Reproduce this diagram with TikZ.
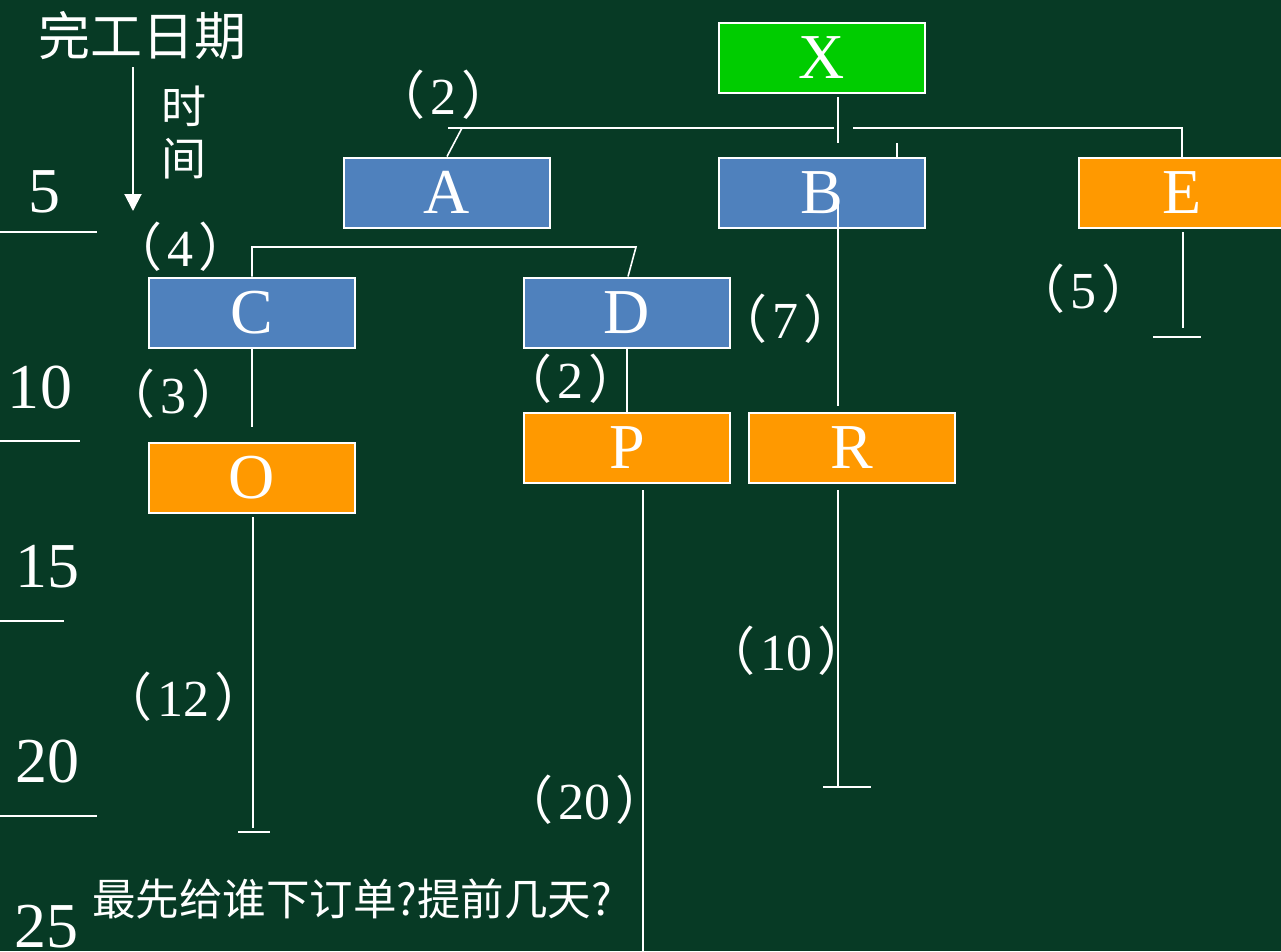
\documentclass[tikz,border=0pt]{standalone}
\usepackage{fontspec}
\setmainfont{Liberation Serif}
\newfontfamily\cjk{Noto Sans CJK SC}
\usetikzlibrary{arrows.meta,calc}
\definecolor{bgc}{RGB}{7,58,37}
\definecolor{boxblue}{RGB}{79,129,189}
\definecolor{boxorange}{RGB}{255,153,0}
\definecolor{boxgreen}{RGB}{0,204,0}
\newcommand\plbl[1]{{\cjk （}\kern5pt#1\kern5pt{\cjk ）}}
\begin{document}
\begin{tikzpicture}[x=1pt,y=-1pt,
  box/.style={draw=white,line width=2pt,minimum width=206pt,minimum height=70pt,inner sep=0pt,text=white,font=\fontsize{64}{64}\selectfont},
  bluebox/.style={box,fill=boxblue},
  orangebox/.style={box,fill=boxorange},
  greenbox/.style={box,fill=boxgreen},
  conn/.style={draw=white,line width=1.6pt},
  lbl/.style={text=white,inner sep=0pt,font=\fontsize{52}{52}\selectfont},
  ticknum/.style={text=white,inner sep=0pt,font=\fontsize{64}{64}\selectfont},
  cjktxt/.style={text=white,inner sep=0pt}]
\fill[bgc] (0,0) rectangle (1281,951);
\useasboundingbox (0,0) rectangle (1281,951);

% boxes
\node[greenbox] (X) at (822,58) {X};
\node[bluebox] (A) at (447,192.5) {A};
\node[bluebox] (B) at (822,192.5) {B};
\node[orangebox] (E) at (1182,192.5) {E};
\node[bluebox] (C) at (252,312.5) {C};
\node[bluebox] (D) at (627,312.5) {D};
\node[orangebox] (O) at (252,477.5) {O};
\node[orangebox] (P) at (627,447.5) {P};
\node[orangebox] (R) at (852,447.5) {R};

% coordinates
\coordinate (xs1) at (838,97);
\coordinate (xs2) at (838,143);
\coordinate (barL) at (448,128);
\coordinate (barM) at (834,128);
\coordinate (barN) at (853,128);
\coordinate (aTop) at (462,128);
\coordinate (bTick) at (897,143);
\coordinate (bIn) at (838,200);
\coordinate (rAbove) at (838,406);
\coordinate (rBelow) at (838,490);
\coordinate (rEnd) at (838,787);
\coordinate (rT1) at (823,787);
\coordinate (rT2) at (871,787);
\coordinate (eBelow) at (1183,232);
\coordinate (eEnd) at (1183,328);
\coordinate (eT1) at (1153,337);
\coordinate (eT2) at (1201,337);
\coordinate (cdL) at (252,247);
\coordinate (cdR) at (636,247);
\coordinate (cBelow) at (252,427);
\coordinate (oBelow) at (253,517);
\coordinate (oEnd) at (253,828);
\coordinate (oT1) at (238,832);
\coordinate (oT2) at (270,832);
\coordinate (pBelow) at (643,490);
\coordinate (pEnd) at (643,951);

% connectors
\draw[conn] (xs1) -- (xs2);
\draw[conn] (barL) -- (barM);
\draw[conn] (barN) -| (E.north);
\draw[conn] (aTop) -- (A.north);
\draw[conn] (bTick) -- (bTick |- B.north);
\draw[conn] (bIn) -- (rAbove);
\draw[conn] (rBelow) -- (rEnd);
\draw[conn] (rT1) -- (rT2);
\draw[conn] (eBelow) -- (eEnd);
\draw[conn] (eT1) -- (eT2);
\draw[conn] (C.north) -- (cdL) -- (cdR) -- ($(D.north)+(1,0)$);
\draw[conn] (C.south) -- (cBelow);
\draw[conn] (oBelow) -- (oEnd);
\draw[conn] (oT1) -- (oT2);
\draw[conn] (D.south) -- (P.north);
\draw[conn] (pBelow) -- (pEnd);

% duration labels
\node[lbl] (l2a) at (443,95) {\plbl{2}};
\node[lbl] (l4) at (180,247) {\plbl{4}};
\node[lbl] (l3) at (173,394) {\plbl{3}};
\node[lbl] (l7) at (785,319) {\plbl{7}};
\node[lbl] (l2p) at (570,379) {\plbl{2}};
\node[lbl] (l5) at (1083,289) {\plbl{5}};
\node[lbl] (l10) at (786,651) {\plbl{10}};
\node[lbl] (l12) at (183,697) {\plbl{12}};
\node[lbl] (l20) at (584,800) {\plbl{20}};

% time axis
\node[cjktxt,font=\cjk\fontsize{52}{52}\selectfont] (title) at (142,36) {完工日期};
\coordinate (arrTop) at (133,67);
\coordinate (arrBot) at (133,211);
\draw[white,line width=2pt,-{Triangle[width=17pt,length=17pt]}] (arrTop) -- (arrBot);
\node[cjktxt,font=\cjk\fontsize{45}{45}\selectfont] (shi) at (184,106) {时};
\node[cjktxt,font=\cjk\fontsize{45}{45}\selectfont] (jian) at (184,159) {间};

\node[ticknum] (t5) at (44,192) {5};
\node[ticknum] (t10) at (40,388) {10};
\node[ticknum] (t15) at (47,567) {15};
\node[ticknum] (t20) at (47,762) {20};
\node[ticknum] (t25) at (46,927) {25};
\draw[conn] (0,232) -- (97,232);
\draw[conn] (0,441) -- (80,441);
\draw[conn] (0,621) -- (64,621);
\draw[conn] (0,816) -- (97,816);

\node[cjktxt,anchor=west,font=\cjk\fontsize{43.5}{43.5}\selectfont] (q) at (92,899) {最先给谁下订单?提前几天?};
\end{tikzpicture}
\end{document}
